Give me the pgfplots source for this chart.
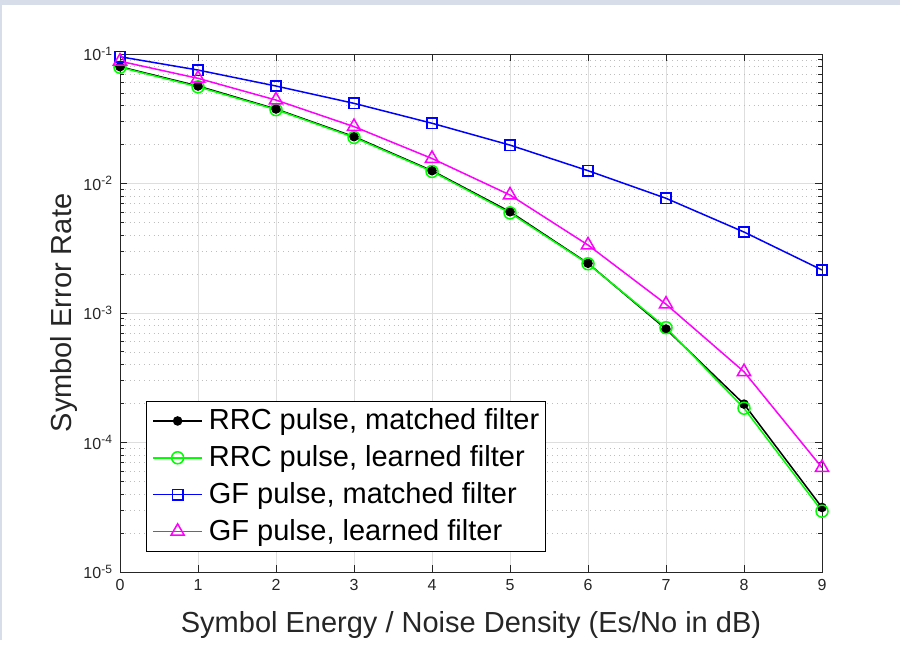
\documentclass[border=0pt]{standalone}
\usepackage{fontspec}
\setmainfont{Liberation Sans}
\usepackage{pgfplots}
\pgfplotsset{compat=1.18}
\definecolor{band}{RGB}{216,222,233}
\definecolor{axgray}{RGB}{38,38,38}
\definecolor{gridgray}{RGB}{222,222,222}
\definecolor{mingray}{RGB}{190,190,190}
\definecolor{mag}{RGB}{255,0,255}
\definecolor{grn}{RGB}{0,255,0}
\definecolor{blu}{RGB}{0,0,255}
\begin{document}
\begin{tikzpicture}
\fill[white] (0,0) rectangle (450pt,320pt);
\fill[band] (0,317.5pt) rectangle (450pt,320pt);
\fill[band] (0,0) rectangle (1pt,320pt);
\begin{axis}[
  at={(60pt,34pt)}, anchor=south west,
  width=351pt, height=259pt, scale only axis,
  xmin=0, xmax=9, ymin=1e-5, ymax=1e-1, ymode=log,
  clip=false,
  axis line style={axgray, line width=0.5pt},
  tick style={axgray, line width=0.5pt},
  tick align=inside,
  major tick length=3.5pt, minor tick length=2pt,
  xtick={0,1,2,3,4,5,6,7,8,9},
  xticklabels={0,1,2,3,4,5,6,7,8,9},
  ytick={1e-5,1e-4,1e-3,1e-2,1e-1},
  yticklabels={10\textsuperscript{-5},10\textsuperscript{-4},10\textsuperscript{-3},10\textsuperscript{-2},10\textsuperscript{-1}},
  minor ytick={2e-5,3e-5,4e-5,5e-5,6e-5,7e-5,8e-5,9e-5,2e-4,3e-4,4e-4,5e-4,6e-4,7e-4,8e-4,9e-4,2e-3,3e-3,4e-3,5e-3,6e-3,7e-3,8e-3,9e-3,2e-2,3e-2,4e-2,5e-2,6e-2,7e-2,8e-2,9e-2},
  ticklabel style={font=\fontsize{8}{9}\selectfont, text=axgray},
  xmajorgrids, ymajorgrids, yminorgrids,
  major grid style={gridgray, line width=0.4pt},
  minor grid style={mingray, line width=0.4pt, dotted},
  xlabel={Symbol Energy / Noise Density (Es/No in dB)},
  ylabel={Symbol Error Rate},
  label style={font=\fontsize{14.5}{16}\selectfont, text=axgray},
  xlabel style={at={(axis description cs:0.5,0)}, anchor=base, yshift=-30pt},
  ylabel style={at={(axis description cs:0,0.5)}, anchor=base, yshift=24.5pt},
  legend cell align=left,
  legend style={at={(0.037,0.039)}, anchor=south west, draw=black,
    font=\fontsize{14.5}{16}\selectfont, inner xsep=3pt, inner ysep=4pt, row sep=6.4pt,
    nodes={inner sep=0pt},
    /tikz/every odd column/.append style={column sep=3pt}},
  legend image code/.code={\draw[line width=0.75pt, mark repeat=2,mark phase=2] plot coordinates {(0pt,0pt)(12.25pt,0pt)(24.5pt,0pt)};},
]
\addplot[black, line width=0.75pt, mark=*, mark size=2pt, mark options={solid, fill=black}]
  coordinates {(0,0.0798)(1,0.0566)(2,0.0376)(3,0.0230)(4,0.01256)(5,0.00605)(6,0.00242)(7,0.000752)(8,0.000198)(9,3.15e-5)};
\addlegendentry{RRC pulse, matched filter}
\addplot[grn, line width=0.75pt, mark=o, mark size=3pt, mark options={solid}]
  coordinates {(0,0.0790)(1,0.0558)(2,0.0372)(3,0.0227)(4,0.0124)(5,0.00593)(6,0.00240)(7,0.000770)(8,0.000184)(9,2.95e-5)};
\addlegendentry{RRC pulse, learned filter}
\addplot[blu, line width=0.75pt, mark=square, mark size=2.6pt, mark options={solid}]
  coordinates {(0,0.0953)(1,0.0752)(2,0.0566)(3,0.0416)(4,0.0292)(5,0.0198)(6,0.01256)(7,0.00769)(8,0.00422)(9,0.00215)};
\addlegendentry{GF pulse, matched filter}
\addplot[mag, line width=0.75pt, mark=triangle, mark size=3.8pt, mark options={solid}]
  coordinates {(0,0.088)(1,0.0649)(2,0.0441)(3,0.0275)(4,0.0156)(5,0.00815)(6,0.00335)(7,0.00117)(8,0.000352)(9,6.4e-5)};
\addlegendentry{GF pulse, learned filter}
\end{axis}
\end{tikzpicture}
\end{document}
